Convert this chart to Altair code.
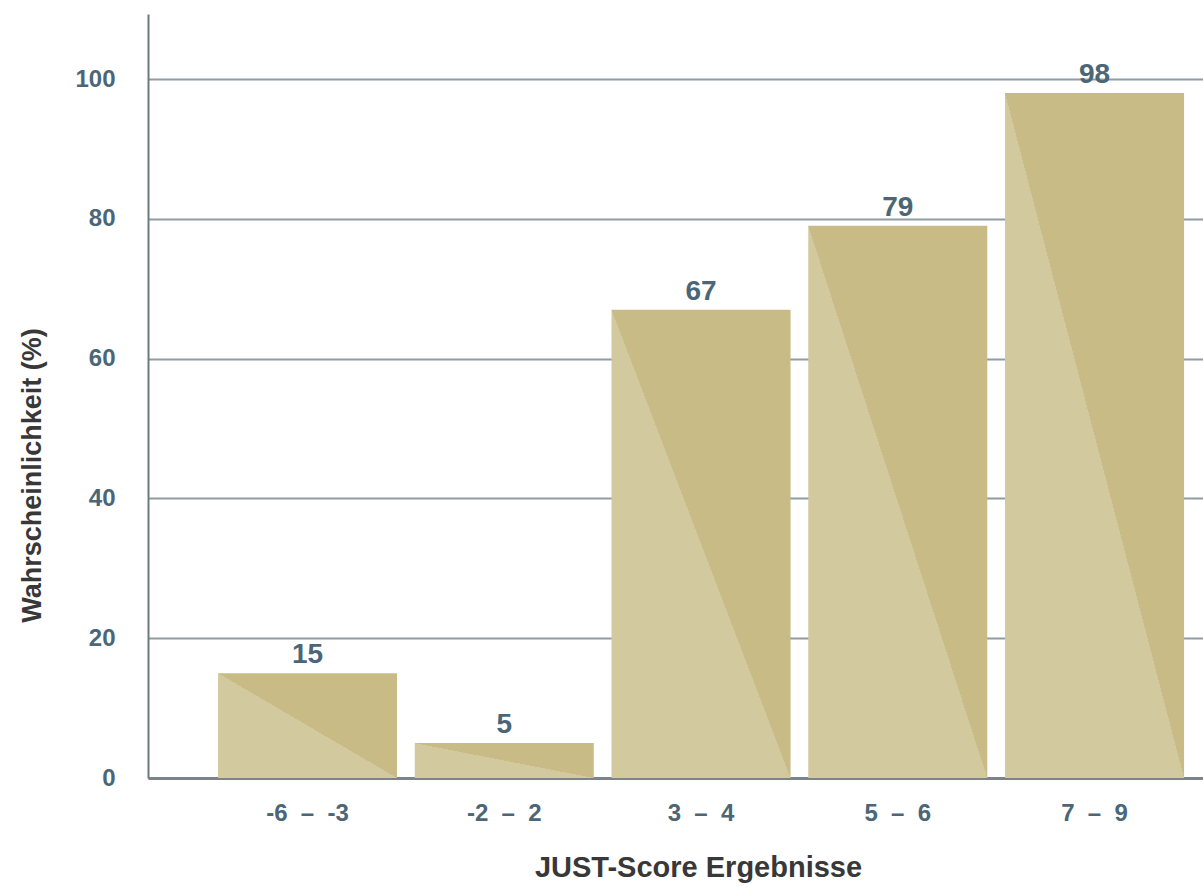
import altair as alt
import pandas as pd

# JUST-Score ranges and the probability for each range
categories = ["-6\u00a0\u00a0–\u00a0\u00a0-3", "-2\u00a0\u00a0–\u00a0\u00a02", "3\u00a0\u00a0–\u00a0\u00a04",
              "5\u00a0\u00a0–\u00a0\u00a06", "7\u00a0\u00a0–\u00a0\u00a09"]
values = [15, 5, 67, 79, 98]
y_ticks = [0, 20, 40, 60, 80, 100]

df = pd.DataFrame({"score": categories, "prob": values})

LIGHT = "#d3c99e"
DARK = "#c9bb85"
SLATE = "#4b6677"
FONT = "Liberation Sans"

# two-tone fill: a hard stop along the bar's diagonal (top-left to bottom-right)
two_tone = alt.Gradient(
    gradient="linear",
    x1=0, y1=1, x2=1, y2=0,
    stops=[
        alt.GradientStop(offset=0, color=LIGHT),
        alt.GradientStop(offset=0.5, color=LIGHT),
        alt.GradientStop(offset=0.5, color=DARK),
        alt.GradientStop(offset=1, color=DARK),
    ],
)

x_enc = alt.X(
    "score:N",
    sort=categories,
    scale=alt.Scale(paddingInner=0.09, paddingOuter=0.226, align=0.787),
    axis=alt.Axis(
        title="JUST-Score Ergebnisse",
        titleFont=FONT, titleFontSize=29, titleFontWeight="bold", titleColor="#383838",
        titleX=550, titleY=89, titleAnchor="middle", titleBaseline="middle",
        labelFont=FONT, labelFontSize=24, labelFontWeight="bold", labelColor=SLATE,
        labelAngle=0, labelPadding=23, ticks=False, tickSize=0,
        domainColor="#7b8589", domainWidth=3, grid=False,
    ),
)

y_enc = alt.Y(
    "prob:Q",
    scale=alt.Scale(domain=[0, 109.3], nice=False),
    axis=alt.Axis(
        title="Wahrscheinlichkeit (%)",
        titleFont=FONT, titleFontSize=27, titleFontWeight="bold", titleColor="#383838",
        titleAngle=270, titleX=-116, titleY=461, titleAlign="center", titleBaseline="middle",
        values=y_ticks,
        labelFont=FONT, labelFontSize=24, labelFontWeight="bold", labelColor=SLATE,
        labelPadding=33, ticks=False, tickSize=0,
        domainColor="#6f7a7e", domainWidth=2,
        grid=True, gridColor="#8f9ca1", gridWidth=2,
    ),
)

bars = alt.Chart(df).mark_bar(color=two_tone).encode(x=x_enc, y=y_enc)

labels = alt.Chart(df).mark_text(
    font=FONT, fontSize=28, fontWeight="bold", color=SLATE,
    baseline="alphabetic", dy=-10,
).encode(
    x=alt.X("score:N", sort=categories),
    y=alt.Y("prob:Q"),
    text=alt.Text("prob:Q"),
)

chart = (
    alt.layer(bars, labels)
    .properties(
        width=1055,
        height=764,
        autosize=alt.AutoSizeParams(type="none"),
        padding={"left": 148, "top": 14, "right": 0, "bottom": 115},
        background="white",
    )
    .configure_view(stroke=None)
)

chart.save("out.html", embed_options={"renderer": "svg", "actions": False})
